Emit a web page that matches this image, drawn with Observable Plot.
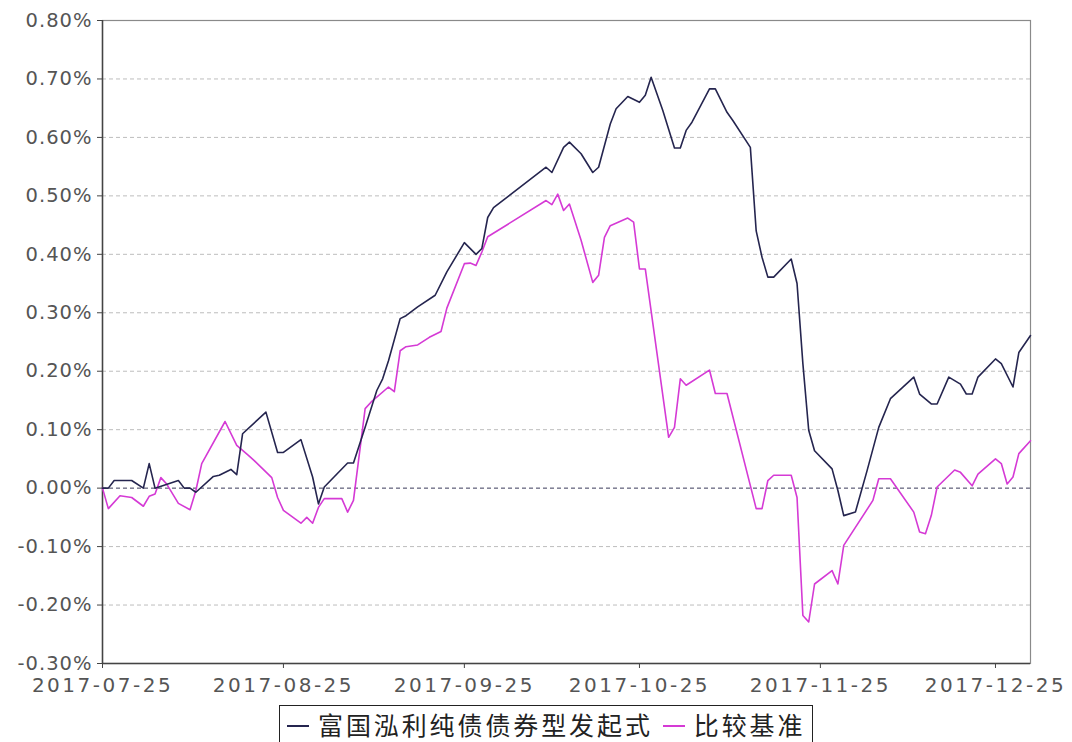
<!DOCTYPE html>
<html>
<head>
<meta charset="utf-8">
<script src="https://cdn.jsdelivr.net/npm/d3@7"></script>
<script src="https://cdn.jsdelivr.net/npm/@observablehq/plot@0.6"></script>
<style>
  html, body { margin: 0; padding: 0; background: #fff; overflow: hidden; }
  #wrap { position: relative; width: 1072px; height: 742px; }
  #chart svg { display: block; }
  g[aria-label="y-axis tick label"] text { letter-spacing: 1px; font-size: 19.5px; }
  g[aria-label="x-axis tick label"] text { letter-spacing: 2.5px; }
  #legend {
    position: absolute; left: 279px; top: 705px; width: 534px; height: 45px;
    border: 1.5px solid #222; box-sizing: border-box;
    font-family: "Noto Sans CJK SC", sans-serif; font-size: 25px; letter-spacing: 2.9px;
    color: #222; line-height: 36px; padding-left: 7px; white-space: nowrap;
  }
  #legend .sw { display: inline-block; width: 22px; height: 2px; vertical-align: middle; margin-right: 9px; position: relative; top: -2px; }
</style>
</head>
<body>
<div id="wrap">
  <div id="chart"></div>
  <div id="legend"></div>
</div>
<script>
const seriesNames = ["富国泓利纯债债券型发起式", "比较基准"];
const seriesColors = ["#25254f", "#d53ad5"];

const fundDates = [
  "2017-07-25","2017-07-26","2017-07-27","2017-07-30",
  "2017-08-01","2017-08-02","2017-08-03","2017-08-07","2017-08-08","2017-08-09","2017-08-10","2017-08-13","2017-08-14","2017-08-16","2017-08-17","2017-08-18","2017-08-22","2017-08-24","2017-08-25","2017-08-28","2017-08-30","2017-08-31",
  "2017-09-01","2017-09-05","2017-09-06","2017-09-08","2017-09-10","2017-09-11","2017-09-12","2017-09-14","2017-09-15","2017-09-17","2017-09-20","2017-09-22","2017-09-25","2017-09-27","2017-09-28","2017-09-29","2017-09-30",
  "2017-10-09","2017-10-10","2017-10-12","2017-10-13","2017-10-15","2017-10-17","2017-10-18","2017-10-20","2017-10-21","2017-10-23","2017-10-25","2017-10-26","2017-10-27","2017-10-29","2017-10-31",
  "2017-11-01","2017-11-02","2017-11-03","2017-11-06","2017-11-07","2017-11-09","2017-11-10","2017-11-13","2017-11-14","2017-11-15","2017-11-16","2017-11-17","2017-11-20","2017-11-21","2017-11-22","2017-11-23","2017-11-24","2017-11-27","2017-11-28","2017-11-29",
  "2017-12-01","2017-12-03","2017-12-05","2017-12-07","2017-12-11","2017-12-12","2017-12-14","2017-12-15","2017-12-17","2017-12-19","2017-12-20","2017-12-21","2017-12-22","2017-12-25","2017-12-26","2017-12-28","2017-12-29","2017-12-31"
];
const fundValues = [
  0, 0, 0.013, 0.013,
  0, 0.042, 0, 0.013, 0, 0, -0.007, 0.020, 0.022, 0.032, 0.023, 0.093, 0.130, 0.061, 0.061, 0.083, 0.019, -0.027,
  0.002, 0.043, 0.043, 0.104, 0.167, 0.187, 0.218, 0.290, 0.295, 0.310, 0.330, 0.370, 0.420, 0.400, 0.410, 0.463, 0.480,
  0.549, 0.540, 0.583, 0.592, 0.572, 0.540, 0.549, 0.623, 0.649, 0.670, 0.660, 0.672, 0.703, 0.646, 0.582,
  0.582, 0.612, 0.626, 0.683, 0.683, 0.643, 0.629, 0.583, 0.440, 0.395, 0.361, 0.361, 0.392, 0.350, 0.213, 0.099, 0.064, 0.033, -0.004, -0.047,
  -0.041, 0.030, 0.104, 0.153, 0.190, 0.161, 0.144, 0.144, 0.190, 0.178, 0.161, 0.161, 0.190, 0.221, 0.213, 0.173, 0.232, 0.261
];

const benchDates = [
  "2017-07-25","2017-07-26","2017-07-28","2017-07-30",
  "2017-08-01","2017-08-02","2017-08-03","2017-08-04","2017-08-05","2017-08-07","2017-08-09","2017-08-10","2017-08-11","2017-08-15","2017-08-17","2017-08-19","2017-08-20","2017-08-23","2017-08-24","2017-08-25","2017-08-28","2017-08-29","2017-08-30","2017-08-31",
  "2017-09-01","2017-09-04","2017-09-05","2017-09-06","2017-09-08","2017-09-09","2017-09-12","2017-09-13","2017-09-14","2017-09-15","2017-09-17","2017-09-19","2017-09-21","2017-09-22","2017-09-25","2017-09-26","2017-09-27","2017-09-28","2017-09-29",
  "2017-10-09","2017-10-10","2017-10-11","2017-10-12","2017-10-13","2017-10-15","2017-10-17","2017-10-18","2017-10-19","2017-10-20","2017-10-23","2017-10-24","2017-10-25","2017-10-26","2017-10-30","2017-10-31",
  "2017-11-01","2017-11-02","2017-11-06","2017-11-07","2017-11-09","2017-11-14","2017-11-15","2017-11-16","2017-11-17","2017-11-20","2017-11-21","2017-11-22","2017-11-23","2017-11-24","2017-11-27","2017-11-28","2017-11-29",
  "2017-12-04","2017-12-05","2017-12-07","2017-12-11","2017-12-12","2017-12-13","2017-12-14","2017-12-15","2017-12-18","2017-12-19","2017-12-21","2017-12-22","2017-12-25","2017-12-26","2017-12-27","2017-12-28","2017-12-29","2017-12-31"
];
const benchValues = [
  0, -0.035, -0.013, -0.016,
  -0.031, -0.014, -0.010, 0.018, 0.007, -0.026, -0.037, -0.004, 0.042, 0.114, 0.073, 0.056, 0.047, 0.018, -0.016, -0.038, -0.060, -0.050, -0.060, -0.033,
  -0.018, -0.018, -0.041, -0.021, 0.136, 0.147, 0.173, 0.165, 0.235, 0.242, 0.245, 0.258, 0.268, 0.308, 0.384, 0.385, 0.381, 0.404, 0.430,
  0.492, 0.485, 0.503, 0.475, 0.486, 0.424, 0.352, 0.364, 0.429, 0.449, 0.462, 0.455, 0.375, 0.375, 0.087, 0.104,
  0.187, 0.176, 0.202, 0.162, 0.162, -0.035, -0.035, 0.013, 0.022, 0.022, -0.016, -0.218, -0.229, -0.164, -0.141, -0.164, -0.098,
  -0.021, 0.016, 0.016, -0.041, -0.075, -0.078, -0.047, 0.002, 0.031, 0.027, 0.004, 0.024, 0.050, 0.042, 0.007, 0.019, 0.059, 0.081
];

const xDomain = ["2017-07-25", "2017-12-31"];
const xTickLabels = ["2017-07-25","2017-08-25","2017-09-25","2017-10-25","2017-11-25","2017-12-25"];
const yTicks = [-0.3, -0.2, -0.1, 0, 0.1, 0.2, 0.3, 0.4, 0.5, 0.6, 0.7, 0.8];

const parse = d3.utcParse("%Y-%m-%d");
const fund = fundDates.map((d, i) => ({date: parse(d), value: fundValues[i]}));
const bench = benchDates.map((d, i) => ({date: parse(d), value: benchValues[i]}));
const gridTicks = yTicks.filter(v => v !== 0 && v !== yTicks[0] && v !== yTicks[yTicks.length - 1]);

const chart = Plot.plot({
  width: 1072,
  height: 700,
  marginLeft: 102,
  marginRight: 42,
  marginTop: 20,
  marginBottom: 37,
  style: {fontFamily: "DejaVu Sans, sans-serif", fontSize: "20px", color: "#555", background: "#fff"},
  x: {type: "utc", domain: xDomain.map(parse), label: null},
  y: {domain: [yTicks[0], yTicks[yTicks.length - 1]], label: null},
  marks: [
    Plot.ruleY(gridTicks, {stroke: "#bdbdbd", strokeDasharray: "4,3", strokeWidth: 1}),
    Plot.ruleY([0], {stroke: "#3a3a5a", strokeDasharray: "4,3", strokeWidth: 1}),
    Plot.frame({stroke: "#8a8a8a", strokeWidth: 1.2}),
    Plot.ruleX([parse(xDomain[0])], {stroke: "#444", strokeWidth: 1.5}),
    Plot.ruleY([yTicks[0]], {stroke: "#444", strokeWidth: 1.5}),
    Plot.axisY({ticks: yTicks, tickFormat: d => d.toFixed(2) + "%", tickSize: 5, tickPadding: 5, stroke: "#444", label: null}),
    Plot.axisX({ticks: xTickLabels.map(parse), tickFormat: d3.utcFormat("%Y-%m-%d"), tickSize: 5, tickPadding: 9, stroke: "#444", label: null}),
    Plot.line(bench, {x: "date", y: "value", stroke: seriesColors[1], strokeWidth: 1.6}),
    Plot.line(fund, {x: "date", y: "value", stroke: seriesColors[0], strokeWidth: 1.6})
  ]
});
document.getElementById("chart").appendChild(chart);

const legend = document.getElementById("legend");
seriesNames.forEach((name, i) => {
  const sw = document.createElement("span");
  sw.className = "sw";
  sw.style.background = seriesColors[i];
  if (i > 0) sw.style.marginLeft = "10px";
  legend.appendChild(sw);
  const t = document.createElement("span");
  t.textContent = name;
  legend.appendChild(t);
});
</script>
</body>
</html>
